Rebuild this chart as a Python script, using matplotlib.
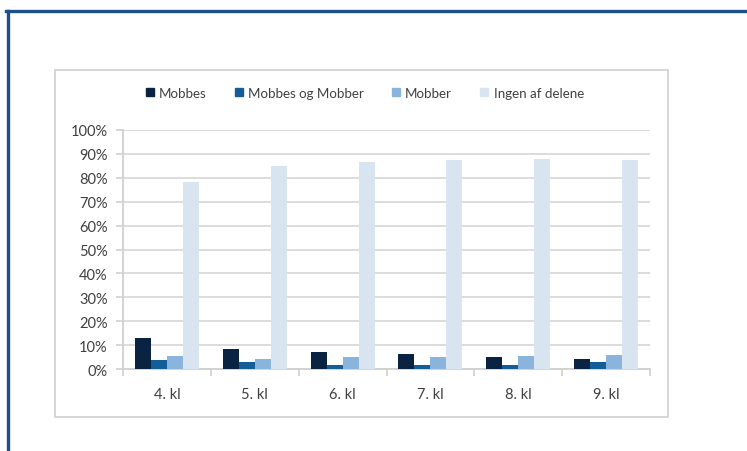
import matplotlib
matplotlib.use("Agg")
import matplotlib.pyplot as plt
from matplotlib.lines import Line2D
from matplotlib.patches import Rectangle
import numpy as np

plt.rcParams['font.family'] = ['Lato', 'DejaVu Sans']

categories = ["4. kl", "5. kl", "6. kl", "7. kl", "8. kl", "9. kl"]
series_names = ["Mobbes", "Mobbes og Mobber", "Mobber", "Ingen af delene"]
mobbes = [12.8, 8.4, 7.0, 6.4, 4.9, 4.3]
mobbes_og_mobber = [3.8, 2.9, 1.8, 1.8, 1.8, 2.9]
mobber = [5.3, 4.3, 4.9, 4.9, 5.3, 5.9]
ingen = [78.2, 85.0, 86.5, 87.4, 87.9, 87.3]
colors = ["#0b2342", "#135e98", "#8ab4dc", "#d8e5f1"]
yticks = list(range(0, 101, 10))

W, H = 747, 452
fig = plt.figure(figsize=(W / 100, H / 100), dpi=100)

# outer blue border lines (top and left)
fig.add_artist(Line2D([6 / W, 1], [1 - 12 / H, 1 - 12 / H], color="#1d4f8b", lw=2.4, transform=fig.transFigure))
fig.add_artist(Line2D([8 / W, 8 / W], [1 - 12 / H, 0], color="#1d4f8b", lw=2.4, transform=fig.transFigure))

# inner chart frame
fig.add_artist(Rectangle((55 / W, 1 - 418 / H), (668 - 55) / W, (418 - 71) / H,
                         fill=False, edgecolor="#d0d0d0", lw=1.2, transform=fig.transFigure))

ax_l, ax_r = 123 / W, 650 / W
ax_b, ax_t = 1 - 370 / H, 1 - 131 / H
ax = fig.add_axes([ax_l, ax_b, ax_r - ax_l, ax_t - ax_b])

x = np.arange(len(categories))
w = 0.182
data = [mobbes, mobbes_og_mobber, mobber, ingen]
for i, (vals, c, name) in enumerate(zip(data, colors, series_names)):
    ax.bar(x + (i - 1.5) * w, vals, width=w, color=c, label=name, zorder=3)

ax.set_xlim(-0.5, len(categories) - 0.5)
ax.set_ylim(0, 100)
ax.set_yticks(yticks)
ax.set_yticklabels([f"{v}%" for v in yticks])
ax.yaxis.grid(True, color="#d9d9d9", lw=1.3, zorder=0)
ax.set_axisbelow(True)

ax.set_xticks(x)
ax.set_xticklabels(categories)
ax.set_xticks(np.arange(-0.5, len(categories), 1.0), minor=True)
ax.tick_params(axis="x", which="major", length=0, pad=13, labelsize=10.5, labelcolor="#404040")
ax.tick_params(axis="x", which="minor", length=5, width=1.2, color="#d0d0d0", direction="out")
ax.tick_params(axis="y", length=5, width=1.2, color="#d0d0d0", pad=6, labelsize=10.5, labelcolor="#404040")

for s in ["top", "right"]:
    ax.spines[s].set_visible(False)
for s in ["left", "bottom"]:
    ax.spines[s].set_color("#d0d0d0")
    ax.spines[s].set_linewidth(1.3)

handles = [Line2D([], [], marker="s", linestyle="none", markersize=5.5, markerfacecolor=c, markeredgecolor=c) for c in colors]
fig.legend(handles, series_names, loc="center", bbox_to_anchor=(364 / W, 1 - 94 / H), ncol=4,
           frameon=False, fontsize=9.6, labelcolor="#404040", handletextpad=0.3, columnspacing=2.0,
           handlelength=0.8)

fig.savefig("out.png", dpi=100)
